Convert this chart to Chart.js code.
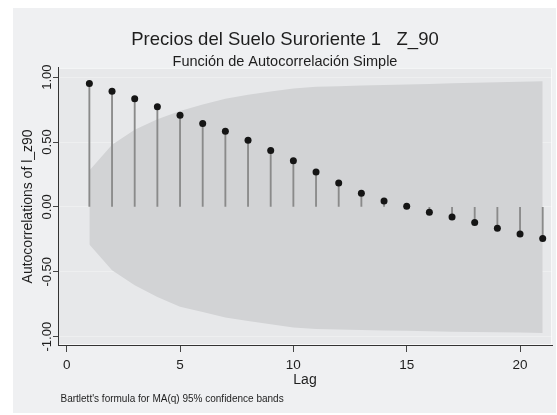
<!DOCTYPE html>
<html>
<head>
<meta charset="utf-8">
<script src="https://cdn.jsdelivr.net/npm/chart.js@4/dist/chart.umd.min.js"></script>
<style>
  html, body { margin: 0; padding: 0; background: #ffffff; }
  canvas { display: block; }
</style>
</head>
<body>
<canvas id="acf" width="557" height="415"></canvas>
<script>
// Simple autocorrelation function of l_z90, lags 1..21
const lags = [1, 2, 3, 4, 5, 6, 7, 8, 9, 10, 11, 12, 13, 14, 15, 16, 17, 18, 19, 20, 21];
const acf = [0.951, 0.892, 0.833, 0.771, 0.707, 0.643, 0.584, 0.514, 0.435, 0.355, 0.270,
             0.185, 0.106, 0.046, 0.005, -0.041, -0.077, -0.120, -0.164, -0.208, -0.244];

// Bartlett 95% confidence band (upper and lower limits per lag)
const bandUpper = [0.280, 0.480, 0.595, 0.675, 0.740, 0.790, 0.833, 0.865, 0.890, 0.912, 0.926,
                   0.930, 0.935, 0.939, 0.943, 0.948, 0.952, 0.956, 0.960, 0.965, 0.969];
const bandLower = [-0.290, -0.488, -0.604, -0.694, -0.770, -0.810, -0.853, -0.880, -0.905, -0.930, -0.940,
                   -0.945, -0.948, -0.952, -0.955, -0.958, -0.961, -0.964, -0.966, -0.968, -0.971];

const xTicks = [0, 5, 10, 15, 20];
const yTicks = [-1, -0.5, 0, 0.5, 1];

const TITLE = 'Precios del Suelo Suroriente 1   Z_90';
const SUBTITLE = 'Función de Autocorrelación Simple';
const X_TITLE = 'Lag';
const Y_TITLE = 'Autocorrelations of l_z90';
const FOOTNOTE = "Bartlett's formula for MA(q) 95% confidence bands";

const FONT = '"Liberation Sans", Arial, Helvetica, sans-serif';
const TEXT = '#1e1e1e';

// Graph panel, plot region and footnote
const panelPlugin = {
  id: 'panel',
  beforeDraw(chart) {
    const { ctx, chartArea: a } = chart;
    ctx.save();
    ctx.fillStyle = '#eff0f2';
    ctx.fillRect(13, 8, 543, 405);
    ctx.fillStyle = '#e7e8ea';
    ctx.fillRect(a.left, a.top, a.right - a.left, a.bottom - a.top);
    ctx.strokeStyle = 'rgba(255,255,255,0.7)';
    ctx.lineWidth = 1;
    ctx.strokeRect(a.left + 0.5, a.top + 0.5, a.right - a.left - 1, a.bottom - a.top - 1);
    ctx.restore();
  },
  afterDraw(chart) {
    const { ctx } = chart;
    ctx.save();
    ctx.font = '10px ' + FONT;
    ctx.fillStyle = TEXT;
    ctx.textBaseline = 'middle';
    ctx.textAlign = 'left';
    ctx.fillText(FOOTNOTE, 60.5, 399);
    ctx.restore();
  }
};

new Chart(document.getElementById('acf'), {
  type: 'scatter',
  data: {
    datasets: [
      {
        type: 'line',
        label: 'band upper',
        data: lags.map((l, i) => ({ x: l, y: bandUpper[i] })),
        fill: '+1',
        backgroundColor: '#d2d3d5',
        borderWidth: 0,
        borderColor: 'rgba(0,0,0,0)',
        pointRadius: 0,
        tension: 0,
        showLine: true,
        order: 3
      },
      {
        type: 'line',
        label: 'band lower',
        data: lags.map((l, i) => ({ x: l, y: bandLower[i] })),
        fill: false,
        borderWidth: 0,
        borderColor: 'rgba(0,0,0,0)',
        pointRadius: 0,
        tension: 0,
        showLine: true,
        order: 3
      },
      {
        type: 'bar',
        label: 'stems',
        data: lags.map((l, i) => ({ x: l, y: [0, acf[i]] })),
        backgroundColor: '#8a8a8a',
        borderWidth: 0,
        barThickness: 1.2,
        order: 2
      },
      {
        type: 'scatter',
        label: 'acf',
        data: lags.map((l, i) => ({ x: l, y: acf[i] })),
        backgroundColor: '#151515',
        borderWidth: 0,
        pointRadius: 3.5,
        order: 1
      }
    ]
  },
  options: {
    responsive: false,
    animation: false,
    devicePixelRatio: 1,
    layout: { padding: { top: 0, left: 18, right: 5, bottom: 0 } },
    plugins: {
      legend: { display: false },
      tooltip: { enabled: false },
      title: {
        display: true,
        text: TITLE,
        color: TEXT,
        font: { family: FONT, size: 18.5, weight: 'normal', lineHeight: 1 },
        padding: { top: 30.75, bottom: 0 }
      },
      subtitle: {
        display: true,
        text: SUBTITLE,
        color: TEXT,
        font: { family: FONT, size: 14.5, weight: 'normal', lineHeight: 0.8 },
        padding: { top: 6.95, bottom: 0 }
      }
    },
    scales: {
      x: {
        type: 'linear',
        min: -0.384,
        max: 21.41,
        offset: false,
        afterBuildTicks: s => { s.ticks = xTicks.map(v => ({ value: v })); },
        afterFit: s => { s.height = 70; },
        grid: { offset: false, drawOnChartArea: false, tickLength: 7, tickColor: '#444', lineWidth: 1 },
        border: { color: '#333', width: 1 },
        ticks: {
          color: TEXT,
          font: { family: FONT, size: 13.5 },
          padding: 5,
          maxRotation: 0,
          autoSkip: false
        },
        title: {
          display: true,
          text: X_TITLE,
          color: TEXT,
          font: { family: FONT, size: 14 },
          padding: { top: 0, bottom: 26.6 }
        }
      },
      y: {
        type: 'linear',
        min: -1.064,
        max: 1.072,
        afterBuildTicks: s => { s.ticks = yTicks.map(v => ({ value: v })); },
        afterFit: s => { s.width = 40; },
        grid: { color: 'rgba(255,255,255,0.3)', tickColor: '#444', tickLength: 5, lineWidth: 1 },
        border: { color: '#333', width: 1 },
        ticks: {
          color: TEXT,
          font: { family: FONT, size: 13 },
          minRotation: 90,
          maxRotation: 90,
          crossAlign: 'center',
          padding: -9.3,
          autoSkip: false,
          callback: v => v.toFixed(2)
        },
        title: {
          display: true,
          text: Y_TITLE,
          color: TEXT,
          font: { family: FONT, size: 14 },
          padding: { top: 2, bottom: 0 }
        }
      }
    }
  },
  plugins: [panelPlugin]
});
</script>
</body>
</html>
